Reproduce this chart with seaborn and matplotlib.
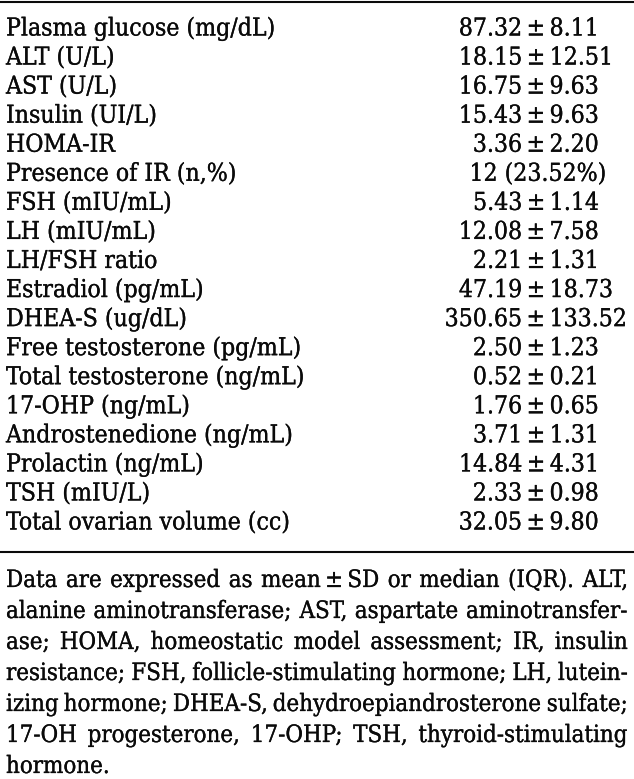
import matplotlib
matplotlib.use("Agg")
import matplotlib.pyplot as plt
import matplotlib.patheffects as pe
import seaborn as sns

# ---------------- data ----------------
variables = [
    "Plasma glucose (mg/dL)", "ALT (U/L)", "AST (U/L)", "Insulin (UI/L)", "HOMA-IR",
    "Presence of IR (n,%)", "FSH (mIU/mL)", "LH (mIU/mL)", "LH/FSH ratio",
    "Estradiol (pg/mL)", "DHEA-S (ug/dL)", "Free testosterone (pg/mL)",
    "Total testosterone (ng/mL)", "17-OHP (ng/mL)", "Androstenedione (ng/mL)",
    "Prolactin (ng/mL)", "TSH (mIU/L)", "Total ovarian volume (cc)",
]
means = [87.32, 18.15, 16.75, 15.43, 3.36, None, 5.43, 12.08, 2.21, 47.19,
         350.65, 2.50, 0.52, 1.76, 3.71, 14.84, 2.33, 32.05]
sds = [8.11, 12.51, 9.63, 9.63, 2.20, None, 1.14, 7.58, 1.31, 18.73,
       133.52, 1.23, 0.21, 0.65, 1.31, 4.31, 0.98, 9.80]
ir_count = 12
ir_percent = 23.52

footnote_lines = [
    "Data are expressed as mean\u2009±\u2009SD or median (IQR). ALT,",
    "alanine aminotransferase; AST, aspartate aminotransfer-",
    "ase; HOMA, homeostatic model assessment; IR, insulin",
    "resistance; FSH, follicle-stimulating hormone; LH, lutein-",
    "izing hormone; DHEA-S, dehydroepiandrosterone sulfate;",
    "17-OH progesterone, 17-OHP; TSH, thyroid-stimulating",
    "hormone.",
]

# ---------------- style ----------------
sns.set_theme(style="white")
FONT = ["DejaVu Serif", "DejaVu Sans"]
plt.rcParams["font.family"] = FONT
plt.rcParams["font.stretch"] = "condensed"
INK = "#0a0a0a"
BOLDEN = [pe.withStroke(linewidth=0.2, foreground=INK)]

W, H = 634, 779
fig = plt.figure(figsize=(W / 100, H / 100), dpi=100)
ax = fig.add_axes([0, 0, 1, 1])
ax.set_xlim(0, W)
ax.set_ylim(H, 0)
ax.axis("off")
renderer = fig.canvas.get_renderer()


def text_width(s, fs):
    t = ax.text(0, 0, s, fontsize=fs)
    w = t.get_window_extent(renderer).width
    t.remove()
    return w


def put(x, y, s, fs, ha="left"):
    ax.text(x, y, s, fontsize=fs, color=INK, ha=ha, va="baseline",
            path_effects=BOLDEN)


# fit font size so the first label matches the reference width
fs = 10 * 268 / text_width(variables[0], 10)
digit_w = text_width("0000000000", fs) / 10

# rules
ax.axhline(2.2, color=INK, lw=1.5)
ax.axhline(551.5, color=INK, lw=1.5)

label_x = 6
value_cx = 536
row0, pitch = 35.5, 29.06

for i, lab in enumerate(variables):
    y = row0 + i * pitch
    put(label_x, y, lab, fs)
    m, s = means[i], sds[i]
    if m is None:
        val = f"{ir_count} ({ir_percent:.2f}%)"
        cx = value_cx + 2
    else:
        val = f"{m:.2f}\u2009±\u2009{s:.2f}"
        pad = max(0, len(str(int(m))) - len(str(int(s))))
        cx = value_cx - 0.5 * pad * digit_w
    put(cx, y, val, fs, ha="center")

# justified footnote
fs_fn = fs * 0.97
left, right = 6, 628
fn0, fn_pitch = 587, 31
space_w = text_width("a a", fs_fn) - text_width("aa", fs_fn)
for j, line in enumerate(footnote_lines):
    y = fn0 + j * fn_pitch
    words = line.split(" ")
    widths = [text_width(wd, fs_fn) for wd in words]
    if j == len(footnote_lines) - 1 or len(words) == 1:
        gap = space_w
    else:
        gap = (right - left - sum(widths)) / (len(words) - 1)
    x = left
    for wd, ww in zip(words, widths):
        put(x, y, wd, fs_fn)
        x += ww + gap

fig.savefig("out.png", dpi=100)
